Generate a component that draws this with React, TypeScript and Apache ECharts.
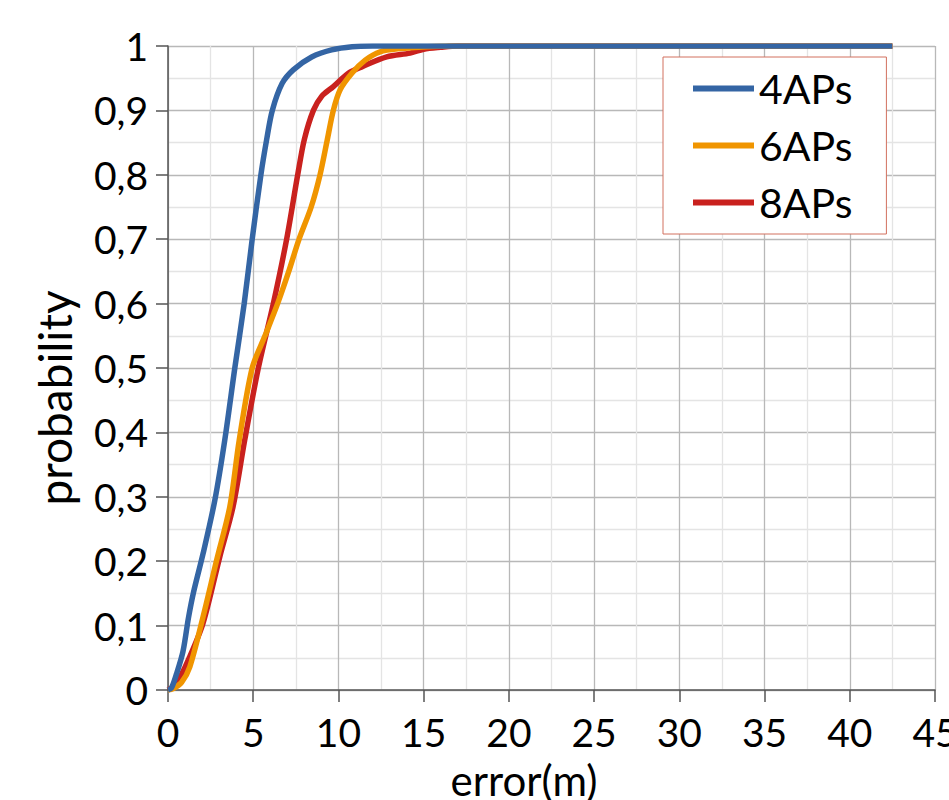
import React, { useEffect, useRef } from "react";
import * as echarts from "echarts";

const seriesNames = ["4APs", "6APs", "8APs"];
const seriesColors = ["#3465a4", "#f09500", "#c9211e"];
const xAxisName = "error(m)";
const yAxisName = "probability";

const blue4APs: [number, number][] = [
  [0, 0], [0.2, 0.003], [0.5, 0.025], [0.88, 0.06], [1.2, 0.112], [1.5, 0.152],
  [2.06, 0.212], [2.75, 0.295], [3.33, 0.388], [3.92, 0.5], [4.47, 0.6],
  [4.94, 0.7], [5.45, 0.8], [5.79, 0.855], [6.12, 0.9], [6.7, 0.942],
  [7.35, 0.963], [8.43, 0.983], [9.6, 0.994], [10.8, 0.999], [12, 1], [42.5, 1],
];

const orange6APs: [number, number][] = [
  [0, 0], [0.3, 0.002], [0.8, 0.012], [1.28, 0.036], [2.06, 0.114], [2.84, 0.2],
  [3.63, 0.285], [4.18, 0.388], [4.94, 0.5], [5.69, 0.55], [6.43, 0.6],
  [7.06, 0.648], [7.69, 0.7], [8.4, 0.75], [8.92, 0.8], [9.35, 0.855],
  [9.7, 0.9], [10.1, 0.932], [10.8, 0.958], [11.57, 0.978], [12.44, 0.991],
  [13.6, 0.996], [15.2, 0.999], [16.5, 1], [42.5, 1],
];

const red8APs: [number, number][] = [
  [0, 0], [0.5, 0.01], [1.28, 0.052], [2.06, 0.104], [3.04, 0.207], [3.82, 0.285],
  [4.5, 0.388], [5.3, 0.5], [6.18, 0.6], [6.96, 0.7], [7.61, 0.8], [8.0, 0.855],
  [8.53, 0.9], [9.02, 0.922], [9.7, 0.937], [10.6, 0.958], [11.4, 0.968],
  [12.83, 0.983], [14.2, 0.989], [15, 0.995], [16, 0.998], [17, 1], [42.5, 1],
];

const seriesData = [blue4APs, orange6APs, red8APs];
const seriesZ = [4, 3, 2];

export default function App() {
  const ref = useRef<HTMLDivElement>(null);
  useEffect(() => {
    if (!ref.current) return;
    const chart = echarts.init(ref.current, null, { renderer: "svg" });
    const font = "Lato";
    chart.setOption({
      animation: false,
      backgroundColor: "#ffffff",
      grid: {
        left: 168,
        right: 14,
        top: 46,
        bottom: 110,
        containLabel: false,
        outerBoundsMode: "none",
      },
      legend: {
        orient: "vertical",
        left: 663,
        top: 57,
        data: seriesNames,
        icon: "rect",
        itemWidth: 61,
        itemHeight: 6,
        itemGap: 16,
        itemTextGap: 12,
        padding: [11, 34, 11, 30],
        borderColor: "#d2705f",
        borderWidth: 1,
        backgroundColor: "#ffffff",
        textStyle: { fontFamily: font, fontSize: 41, color: "#000", lineHeight: 40 },
        itemStyle: { borderWidth: 0 },
      },
      graphic: [
        {
          type: "text",
          x: 54,
          y: 398,
          rotation: Math.PI / 2,
          style: {
            text: yAxisName,
            fontFamily: font,
            fontSize: 46,
            fill: "#000",
            align: "center",
            verticalAlign: "middle",
          },
        },
        {
          type: "text",
          x: 524,
          y: 780,
          style: {
            text: xAxisName,
            fontFamily: font,
            fontSize: 42,
            fill: "#000",
            align: "center",
            verticalAlign: "middle",
          },
        },
      ],
      xAxis: {
        type: "value",
        min: 0,
        max: 45,
        interval: 5,
        axisLine: { show: true, onZero: false, lineStyle: { color: "#555", width: 1.5 } },
        axisTick: { show: true, length: 12, lineStyle: { color: "#555", width: 1.5 } },
        axisLabel: {
          fontFamily: font,
          fontSize: 39,
          color: "#000",
          margin: 22,
          showMaxLabel: true,
          hideOverlap: false,
        },
        splitLine: { show: true, lineStyle: { color: "#b8b8b8", width: 1.3 } },
        minorTick: { show: false, splitNumber: 2 },
        minorSplitLine: { show: true, lineStyle: { color: "#e4e4e4", width: 1.3 } },
      },
      yAxis: {
        type: "value",
        min: 0,
        max: 1,
        interval: 0.1,
        axisLine: { show: true, lineStyle: { color: "#555", width: 1.5 } },
        axisTick: { show: true, length: 12, lineStyle: { color: "#555", width: 1.5 } },
        axisLabel: {
          fontFamily: font,
          fontSize: 39,
          color: "#000",
          margin: 20,
          formatter: (v: number) => String(Math.round(v * 10) / 10).replace(".", ","),
        },
        splitLine: { show: true, lineStyle: { color: "#b8b8b8", width: 1.3 } },
        minorTick: { show: false, splitNumber: 2 },
        minorSplitLine: { show: true, lineStyle: { color: "#e4e4e4", width: 1.3 } },
      },
      series: seriesNames.map((name, i) => ({
        name,
        type: "line",
        data: seriesData[i],
        showSymbol: false,
        symbol: "none",
        smooth: 0.3,
        z: seriesZ[i],
        color: seriesColors[i],
        lineStyle: { color: seriesColors[i], width: 5.5 },
        itemStyle: { color: seriesColors[i] },
      })),
    });
    return () => chart.dispose();
  }, []);
  return (
    <div
      ref={ref}
      style={{ position: "fixed", left: 0, top: 0, width: 949, height: 800 }}
    />
  );
}
